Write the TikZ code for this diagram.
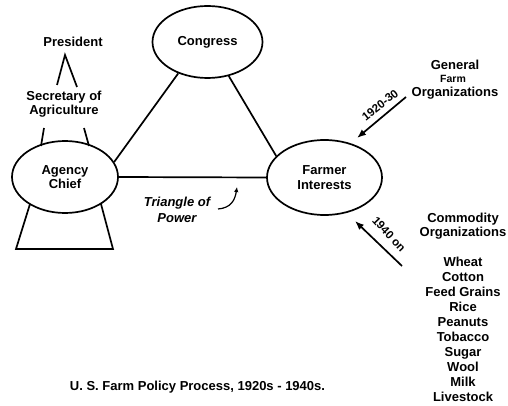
\documentclass[tikz,border=0pt]{standalone}
\usepackage{fontspec}
\setmainfont{Liberation Sans}
\usetikzlibrary{shapes.geometric,arrows.meta}
\begin{document}
\begin{tikzpicture}[x=1pt,y=-1pt,line width=1.7pt,
  txt/.style={font=\bfseries\fontsize{13}{14.5}\selectfont,align=center,inner sep=0pt},
  oval/.style={ellipse,draw,inner sep=0pt,align=center,font=\bfseries\fontsize{13}{14.5}\selectfont},
  yr/.style={font=\bfseries\fontsize{11.5}{13}\selectfont,inner sep=0pt},
  bigarrow/.style={line width=1.7pt,-{Latex[length=9pt,width=7pt]}}]
\useasboundingbox (0,0) rectangle (508,406);
% ellipses
\node[oval,minimum width=110pt,minimum height=72pt] (congress) at (207.5,42) {Congress};
\node[oval,minimum width=106pt,minimum height=72pt] (agency) at (65,177) {Agency\\Chief};
\node[oval,minimum width=115pt,minimum height=75pt] (farmer) at (324.5,177.5) {Farmer\\Interests};
% triangle
\draw (agency.17) -- (congress.227);
\draw (congress.-58) -- (farmer.156);
\draw (agency.0) -- (farmer.180);
% president / secretary
\node[txt] (pres) at (73,42) {President};
\node[txt] (sec) at (64,104) {Secretary of\\Agriculture};
\draw (57,85) -- (65,55) -- (77,87);
\draw (44,128) -- (41,146);
\draw (84,128) -- (89,146);
\draw (30,204) -- (16,249) -- (113,249) -- (101,204);
% triangle of power
\node[txt,font=\bfseries\itshape\fontsize{13}{15.5}\selectfont] (top) at (177,210) {Triangle of\\Power};
\coordinate (cs) at (218,209);
\coordinate (ce) at (237,187);
\draw[line width=1.2pt,-{Latex[length=5pt,width=4.5pt]}] (cs) .. controls (231,208) and (235,200) .. (ce);
% general farm organizations
\node[txt] (gen) at (455,65) {General};
\node[txt,font=\bfseries\fontsize{10.5}{12}\selectfont] (farm) at (453,79) {Farm};
\node[txt] (org1) at (455,93) {Organizations};
\coordinate (a1s) at (406,97);
\coordinate (a1e) at (357,138);
\draw[bigarrow] (a1s) -- (a1e);
\node[yr,rotate=38] (y1) at (380,105) {1920-30};
% commodity organizations
\node[txt] (com) at (463,226) {Commodity\\Organizations};
\coordinate (a2s) at (402,266);
\coordinate (a2e) at (355,221);
\draw[bigarrow] (a2s) -- (a2e);
\node[yr,rotate=-47] (y2) at (389,234) {1940 on};
\node[txt,font=\bfseries\fontsize{13}{15}\selectfont] (list) at (463,329.5) {Wheat\\Cotton\\Feed Grains\\Rice\\Peanuts\\Tobacco\\Sugar\\Wool\\Milk\\Livestock};
% caption
\node[txt] (cap) at (197.5,387) {U. S. Farm Policy Process, 1920s - 1940s.};
\end{tikzpicture}
\end{document}
